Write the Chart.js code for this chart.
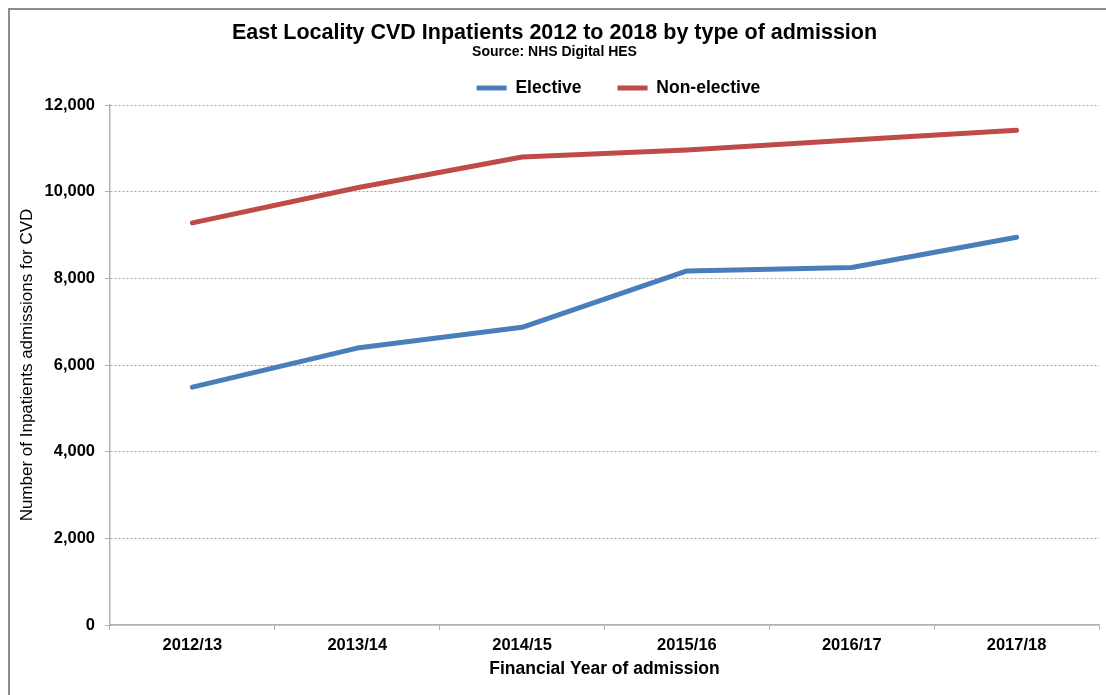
<!DOCTYPE html>
<html>
<head>
<meta charset="utf-8">
<script src="https://cdn.jsdelivr.net/npm/chart.js@4/dist/chart.umd.min.js"></script>
<style>
  html, body { margin: 0; padding: 0; background: #fff; }
  #wrap { position: relative; width: 1106px; height: 695px; overflow: hidden; }
  #frame { position: absolute; left: 8px; top: 8px; width: 1110px; height: 700px;
           border-left: 2px solid #8c8c8c; border-top: 2px solid #8c8c8c; box-sizing: border-box; pointer-events: none; }
  canvas { position: absolute; left: 0; top: 0; }
</style>
</head>
<body>
<div id="wrap">
  <canvas id="c" width="1106" height="695"></canvas>
  <div id="frame"></div>
</div>
<script>
const categories = ['2012/13', '2013/14', '2014/15', '2015/16', '2016/17', '2017/18'];
const elective = [5490, 6390, 6870, 8170, 8250, 8950];
const nonElective = [9280, 10090, 10800, 10960, 11190, 11420];
const seriesNames = ['Elective', 'Non-elective'];
const yTicks = [0, 2000, 4000, 6000, 8000, 10000, 12000];

const FONT = 'Liberation Sans, Arial, Helvetica, sans-serif';

const legendShift = {
  id: 'legendShift',
  afterLayout(chart) {
    chart.legend.left += 64;
    chart.legend.right += 64;
    chart.legend.top += 1.75;
    chart.legend.bottom += 1.75;
  }
};

new Chart(document.getElementById('c'), {
  type: 'line',
  data: {
    labels: categories,
    datasets: [
      { label: seriesNames[0], data: elective, borderColor: '#4a7ebb', backgroundColor: '#4a7ebb',
        borderWidth: 5, pointRadius: 0, tension: 0, borderCapStyle: 'round', borderJoinStyle: 'round' },
      { label: seriesNames[1], data: nonElective, borderColor: '#be4b48', backgroundColor: '#be4b48',
        borderWidth: 5, pointRadius: 0, tension: 0, borderCapStyle: 'round', borderJoinStyle: 'round' }
    ]
  },
  options: {
    responsive: false,
    animation: false,
    devicePixelRatio: 1,
    layout: { padding: { left: 10, right: 7, top: 0, bottom: 0 } },
    plugins: {
      title: {
        display: true,
        text: 'East Locality CVD Inpatients 2012 to 2018 by type of admission',
        color: '#000',
        font: { family: FONT, size: 21.5, weight: 'bold', lineHeight: 1.2 },
        padding: { top: 20, bottom: -4.3 }
      },
      subtitle: {
        display: true,
        text: 'Source: NHS Digital HES',
        color: '#000',
        font: { family: FONT, size: 14, weight: 'bold', lineHeight: 1.2 },
        padding: { top: 2.1, bottom: -18.9 }
      },
      legend: {
        display: true,
        position: 'top',
        labels: {
          color: '#000',
          font: { family: FONT, size: 17.5, weight: 'bold' },
          usePointStyle: true,
          pointStyle: 'line',
          pointStyleWidth: 30,
          boxHeight: 16,
          padding: 36
        }
      },
      tooltip: { enabled: false }
    },
    scales: {
      x: {
        type: 'category',
        offset: true,
        grid: { display: true, drawOnChartArea: false, offset: true, tickLength: 5, color: '#b3b3b3' },
        border: { display: true, color: '#b3b3b3', width: 1.5 },
        ticks: { color: '#000', font: { family: FONT, size: 16.5, weight: 'bold' }, padding: 6, maxRotation: 0 },
        title: { display: true, text: 'Financial Year of admission', color: '#000',
                 font: { family: FONT, size: 17.5, weight: 'bold', lineHeight: 1.2 }, padding: { top: 0, bottom: 15.5 } },
        afterFit(s) { s.height = 70; }
      },
      y: {
        min: 0, max: 12000,
        afterBuildTicks(s) { s.ticks = yTicks.map(v => ({ value: v })); },
        grid: { color: '#a6a6a6', tickLength: 5, tickBorderDash: [], tickBorderDashOffset: 0, tickColor: '#b3b3b3' },
        border: { display: true, color: '#b3b3b3', width: 1.5, dash: [2, 2] },
        ticks: { color: '#000', font: { family: FONT, size: 16.5, weight: 'bold' }, padding: 10,
                 callback: v => v.toLocaleString('en-US') },
        title: { display: true, text: 'Number of Inpatients admissions for CVD', color: '#000',
                 font: { family: FONT, size: 17, weight: 'normal', lineHeight: 1.2 }, padding: { top: 7, bottom: 0 } },
        afterFit(s) { s.width = 100; }
      }
    }
  },
  plugins: [legendShift]
});
</script>
</body>
</html>
